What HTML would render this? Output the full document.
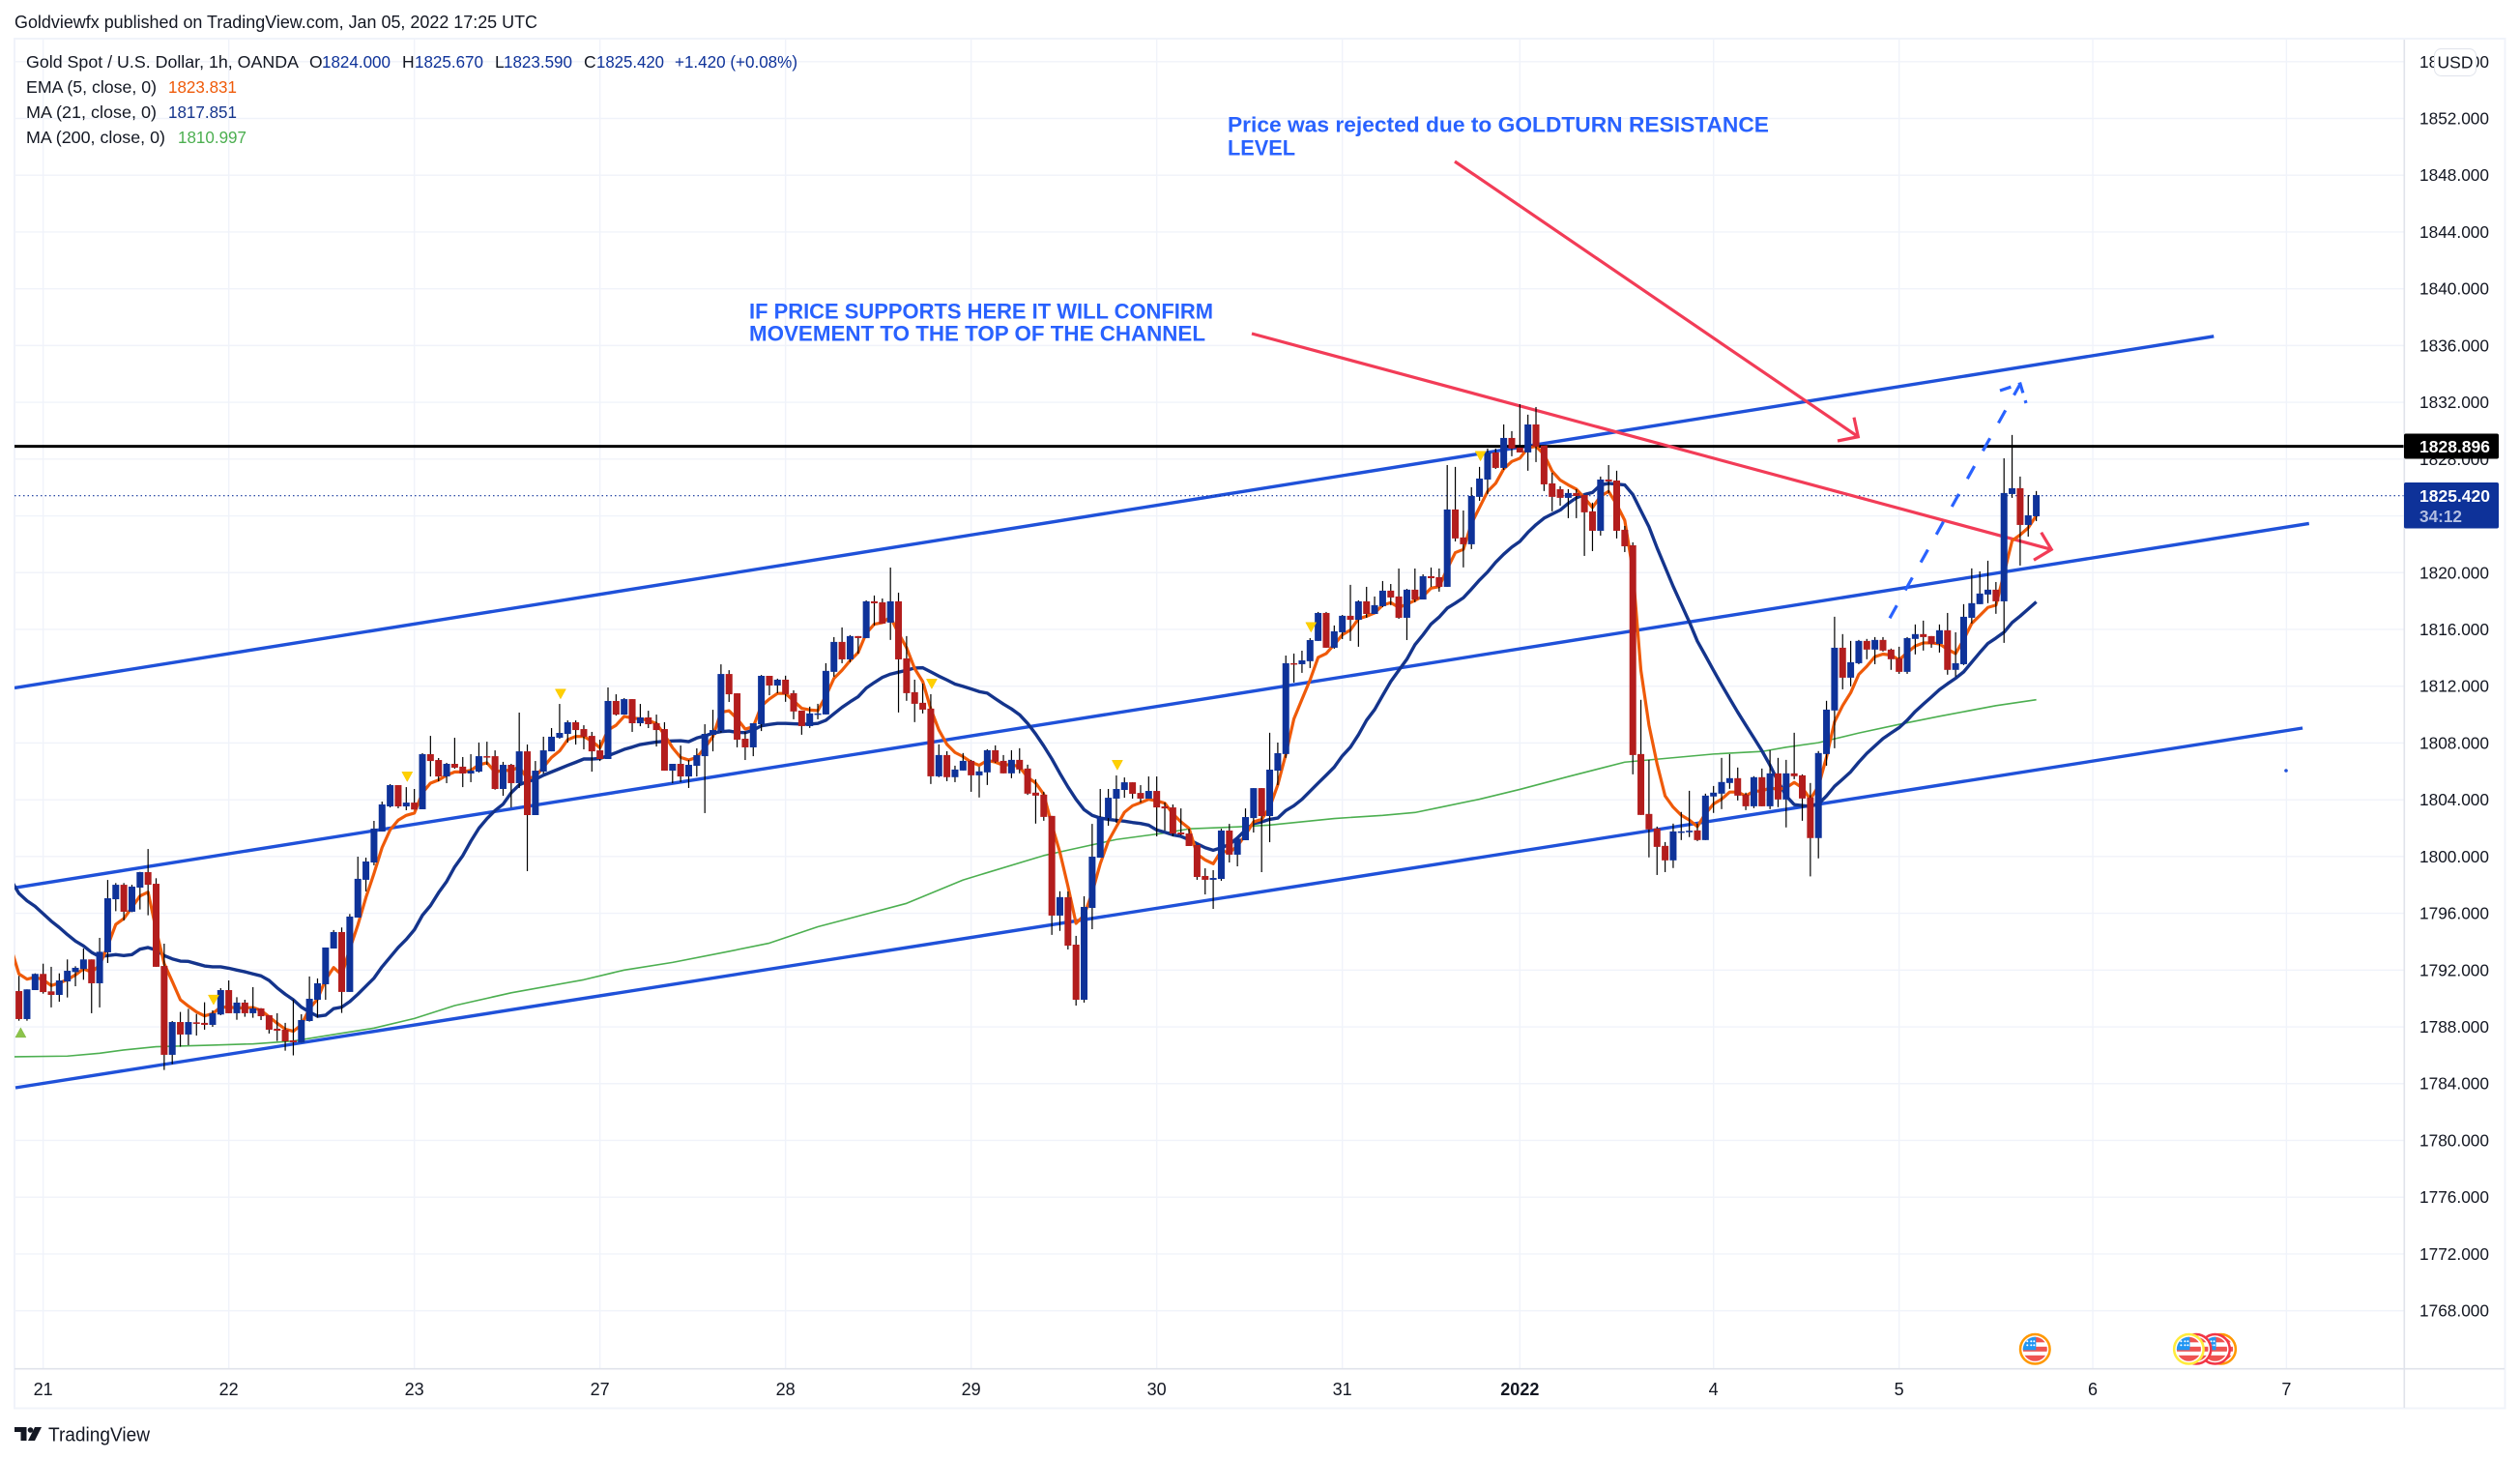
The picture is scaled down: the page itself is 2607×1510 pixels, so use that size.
<!DOCTYPE html>
<html lang="en">
<head>
<meta charset="utf-8">
<title>Gold Spot / U.S. Dollar, 1h chart</title>
<style>
html,body{margin:0;padding:0;background:#fff;width:2607px;height:1510px;overflow:hidden}
svg{display:block}
text{font-family:"Liberation Sans",sans-serif;fill:#131722;dominant-baseline:central}
</style>
</head>
<body>
<svg id="chart" xmlns="http://www.w3.org/2000/svg" width="2607" height="1510" viewBox="0 0 2607 1510">
  <defs>
    <clipPath id="pane-clip"><rect x="15" y="41" width="2472" height="1374"/></clipPath>
    <clipPath id="flag-clip"><circle cx="0" cy="0" r="12.5"/></clipPath>
    <symbol id="us-flag" viewBox="-17 -17 34 34" overflow="visible">
      <circle cx="0" cy="0" r="14" fill="#fff"/>
      <g clip-path="url(#flag-clip)">
        <rect x="-13" y="-13" width="26" height="26" fill="#fff"/>
        <rect x="-13" y="-13" width="26" height="6" fill="#ef5350"/>
        <rect x="-13" y="-2.5" width="26" height="5" fill="#ef5350"/>
        <rect x="-13" y="6.5" width="26" height="7" fill="#ef5350"/>
        <rect x="-13" y="-13" width="14" height="14" fill="#2196f3"/>
        <circle cx="-8" cy="-8" r="1" fill="#fff"/><circle cx="-4" cy="-8" r="1" fill="#fff"/><circle cx="-1" cy="-8" r="1" fill="#fff"/>
        <circle cx="-8" cy="-4" r="1" fill="#fff"/><circle cx="-4" cy="-4" r="1" fill="#fff"/><circle cx="-1" cy="-4" r="1" fill="#fff"/>
      </g>
    </symbol>
  </defs>

  <rect x="15" y="40" width="2576.5" height="1416.5" fill="#fff" stroke="#f0f3fa" stroke-width="2"/>
  <g id="grid"></g>

  <text x="15" y="23" font-size="18" textLength="541" lengthAdjust="spacingAndGlyphs">Goldviewfx published on TradingView.com, Jan 05, 2022 17:25 UTC</text>

  <g id="pane" clip-path="url(#pane-clip)">
    <g id="drawings-under"></g>
    <g id="indicators"></g>
    <g id="candles"></g>
    <g id="signals"></g>
  </g>

  <g font-size="17.5">
    <text x="27" y="64" textLength="282" lengthAdjust="spacingAndGlyphs">Gold Spot / U.S. Dollar, 1h, OANDA</text>
    <text x="320" y="64">O</text>
    <text x="333" y="64" textLength="71" lengthAdjust="spacingAndGlyphs" style="fill:#0e3299">1824.000</text>
    <text x="416" y="64">H</text>
    <text x="429" y="64" textLength="71" lengthAdjust="spacingAndGlyphs" style="fill:#0e3299">1825.670</text>
    <text x="512" y="64">L</text>
    <text x="521" y="64" textLength="71" lengthAdjust="spacingAndGlyphs" style="fill:#0e3299">1823.590</text>
    <text x="604" y="64">C</text>
    <text x="617" y="64" textLength="70" lengthAdjust="spacingAndGlyphs" style="fill:#0e3299">1825.420</text>
    <text x="698" y="64" textLength="127" lengthAdjust="spacingAndGlyphs" style="fill:#0e3299">+1.420 (+0.08%)</text>
    <text x="27" y="90" textLength="135" lengthAdjust="spacingAndGlyphs">EMA (5, close, 0)</text>
    <text x="174" y="90" textLength="71" lengthAdjust="spacingAndGlyphs" style="fill:#ef5a09">1823.831</text>
    <text x="27" y="116" textLength="135" lengthAdjust="spacingAndGlyphs">MA (21, close, 0)</text>
    <text x="174" y="116" textLength="71" lengthAdjust="spacingAndGlyphs" style="fill:#14348c">1817.851</text>
    <text x="27" y="142" textLength="144" lengthAdjust="spacingAndGlyphs">MA (200, close, 0)</text>
    <text x="184" y="142" textLength="71" lengthAdjust="spacingAndGlyphs" style="fill:#4caf50">1810.997</text>
  </g>

  <g font-size="22" font-weight="700">
    <text x="1270" y="129" textLength="560" lengthAdjust="spacingAndGlyphs" style="fill:#2962ff">Price was rejected due to GOLDTURN RESISTANCE</text>
    <text x="1270" y="153" textLength="70" lengthAdjust="spacingAndGlyphs" style="fill:#2962ff">LEVEL</text>
    <text x="775" y="322" textLength="480" lengthAdjust="spacingAndGlyphs" style="fill:#2962ff">IF PRICE SUPPORTS HERE IT WILL CONFIRM</text>
    <text x="775" y="345" textLength="472" lengthAdjust="spacingAndGlyphs" style="fill:#2962ff">MOVEMENT TO THE TOP OF THE CHANNEL</text>
  </g>

  <line x1="2487.3" y1="41" x2="2487.3" y2="1456" stroke="#e0e3eb" stroke-width="1.6"/>
  <line x1="15" y1="1415.7" x2="2591" y2="1415.7" stroke="#e0e3eb" stroke-width="1.6"/>
  <g id="price-axis"></g>
  <g id="time-axis"></g>

  <g>
    <rect x="2487" y="448.5" width="98" height="26" rx="2" fill="#000"/>
    <text x="2503" y="462" font-size="17.5" font-weight="700" textLength="73" lengthAdjust="spacingAndGlyphs" style="fill:#fff">1828.896</text>
  </g>
  <g>
    <rect x="2487" y="499" width="98" height="47.5" rx="2" fill="#0e3299"/>
    <text x="2503" y="513" font-size="17.5" font-weight="700" textLength="73" lengthAdjust="spacingAndGlyphs" style="fill:#fff">1825.420</text>
    <text x="2503" y="534" font-size="17.5" font-weight="700" textLength="44" lengthAdjust="spacingAndGlyphs" style="fill:#b3bfe2">34:12</text>
  </g>
  <g>
    <rect x="2518.5" y="50.5" width="43" height="28" rx="7" fill="#fff" stroke="#e0e3eb" stroke-width="1"/>
    <text x="2540" y="64.5" font-size="17.5" text-anchor="middle">USD</text>
  </g>

  <g>
    <g><circle cx="2105.3" cy="1395.3" r="15" fill="#fff" stroke="#ff9800" stroke-width="3"/><use href="#us-flag" x="2088.3" y="1378.3" width="34" height="34"/></g>
    <g><circle cx="2297.6" cy="1395.3" r="15" fill="#fff" stroke="#ff9800" stroke-width="3"/><use href="#us-flag" x="2280.6" y="1378.3" width="34" height="34"/></g>
    <g><circle cx="2291.5" cy="1395.3" r="15" fill="#fff" stroke="#f23645" stroke-width="3"/><use href="#us-flag" x="2274.5" y="1378.3" width="34" height="34"/></g>
    <g><circle cx="2272" cy="1395.3" r="15" fill="#fff" stroke="#f23645" stroke-width="3"/><use href="#us-flag" x="2255" y="1378.3" width="34" height="34"/></g>
    <g><circle cx="2264.4" cy="1395.3" r="15" fill="#fff" stroke="#ffeb3b" stroke-width="3"/><use href="#us-flag" x="2247.4" y="1378.3" width="34" height="34"/></g>
  </g>

  <g>
    <path d="M15 1476h12.5v14h-6v-9h-6.500z" fill="#131722"/>
    <circle cx="31.500" cy="1479" r="2.800" fill="#131722"/>
    <path d="M36 1476h7l-7 14h-7z" fill="#131722"/>
    <text x="50" y="1484.500" font-size="20" textLength="105" lengthAdjust="spacingAndGlyphs">TradingView</text>
  </g>
</svg>

<script>
// ---------- chart data ----------
const priceTicks = [1856,1852,1848,1844,1840,1836,1832,1828,1824,1820,1816,1812,1808,1804,1800,1796,1792,1788,1784,1780,1776,1772,1768];
const dayLabels = ['21','22','23','27','28','29','30','31','2022','4','5','6','7'];
const dayBars = [3,26,49,72,95,118,141,164,186,210,233,257,281];

const opens = [1790.52,1788.55,1790.59,1791.73,1790.50,1790.25,1791.20,1791.86,1792.07,1792.75,
1791.07,1793.25,1796.99,1798.01,1796.11,1797.81,1798.90,1798.08,1792.29,1786.03,
1788.34,1787.46,1788.32,1788.28,1788.14,1788.87,1790.59,1788.96,1789.71,1788.96,
1789.30,1788.82,1787.87,1787.80,1787.05,1786.89,1788.41,1789.91,1791.00,1793.52,
1794.68,1790.46,1795.70,1798.36,1799.58,1801.76,1803.53,1805.03,1803.53,1803.80,
1803.33,1807.21,1806.80,1805.64,1806.53,1806.33,1805.85,1805.98,1807.07,1807.07,
1804.76,1806.46,1805.17,1807.41,1802.92,1805.98,1807.41,1808.37,1808.64,1809.46,
1808.98,1808.50,1807.48,1806.87,1810.96,1810.00,1811.09,1809.39,1809.80,1809.39,
1808.98,1806.05,1806.53,1805.64,1806.39,1807.07,1808.57,1808.84,1812.86,1811.50,
1808.30,1807.69,1809.32,1812.73,1812.05,1812.46,1811.51,1810.28,1809.19,1810.01,
1810.01,1813.01,1815.12,1813.89,1815.53,1815.39,1817.98,1817.91,1816.48,1817.98,
1813.96,1811.58,1810.83,1810.42,1805.65,1807.15,1805.59,1806.06,1806.74,1805.72,
1805.93,1807.49,1806.74,1805.86,1806.81,1806.20,1804.50,1804.36,1802.86,1795.84,
1797.13,1793.79,1789.91,1796.38,1799.92,1802.71,1804.08,1804.69,1805.23,1804.48,
1804.08,1804.62,1803.53,1803.46,1801.69,1801.62,1800.81,1798.63,1798.36,1798.42,
1801.83,1800.13,1801.15,1802.71,1804.82,1802.85,1806.05,1807.22,1813.62,1813.55,
1813.76,1815.19,1817.16,1814.71,1815.80,1816.96,1816.68,1817.98,1817.09,1817.64,
1818.73,1818.32,1816.82,1818.80,1818.11,1819.75,1819.68,1819.00,1824.45,1822.48,
1822.00,1825.34,1826.56,1828.47,1827.38,1829.49,1828.81,1828.47,1830.44,1828.95,
1826.29,1825.88,1825.27,1825.61,1825.47,1824.32,1822.95,1826.56,1826.49,1823.02,
1821.93,1807.22,1803.00,1801.98,1800.75,1799.73,1801.71,1801.71,1801.84,1801.16,
1804.23,1804.43,1805.18,1805.52,1804.36,1803.54,1805.59,1803.54,1805.86,1804.02,
1805.86,1805.72,1804.16,1801.30,1807.22,1810.29,1814.71,1812.60,1813.62,1815.19,
1814.58,1815.26,1814.58,1813.96,1813.01,1815.33,1815.67,1815.53,1814.98,1815.94,
1813.15,1813.55,1816.82,1817.78,1818.46,1818.80,1817.98,1825.54,1825.95,1823.36,1823.97];

const highs = [1791.59,1790.64,1791.77,1792.45,1792.23,1791.77,1792.75,1792.27,1793.52,1792.75,
1794.27,1798.35,1798.13,1798.13,1798.01,1798.92,1800.53,1798.47,1793.86,1788.41,
1789.05,1789.27,1788.91,1789.73,1789.16,1790.73,1791.27,1790.09,1789.91,1790.80,
1789.32,1788.82,1788.96,1788.28,1789.91,1788.89,1791.55,1791.41,1793.59,1794.82,
1795.00,1795.95,1799.99,1799.92,1802.51,1803.87,1805.10,1805.03,1804.89,1804.76,
1807.28,1808.50,1806.94,1806.60,1808.37,1807.01,1807.21,1808.03,1808.09,1807.48,
1806.67,1806.53,1810.14,1807.89,1806.73,1808.44,1809.05,1810.75,1809.59,1809.59,
1809.25,1808.78,1808.23,1811.91,1811.43,1811.16,1811.09,1810.75,1810.27,1810.00,
1809.46,1806.53,1807.82,1806.80,1807.62,1809.32,1810.34,1813.54,1813.13,1811.50,
1808.78,1809.39,1812.79,1812.73,1812.53,1812.74,1811.71,1810.28,1810.56,1810.76,
1813.62,1815.46,1816.14,1815.60,1815.53,1818.05,1818.39,1818.18,1820.36,1818.59,
1815.53,1812.46,1812.19,1811.44,1807.90,1807.42,1806.40,1807.29,1806.81,1806.33,
1807.56,1807.83,1807.15,1807.49,1807.63,1806.47,1805.45,1804.56,1802.86,1797.55,
1797.54,1794.41,1797.20,1802.30,1804.76,1804.76,1805.71,1805.57,1805.23,1805.03,
1805.64,1805.64,1803.80,1803.67,1803.39,1801.96,1800.81,1799.17,1799.04,1801.96,
1802.30,1801.26,1803.39,1804.82,1804.82,1808.72,1808.03,1814.16,1814.30,1814.50,
1815.39,1817.23,1817.23,1816.28,1817.02,1819.14,1818.05,1819.00,1818.32,1819.41,
1819.20,1820.29,1818.86,1820.29,1819.88,1820.36,1820.29,1827.58,1827.45,1824.38,
1826.02,1827.45,1828.74,1828.74,1830.44,1829.97,1831.87,1831.13,1831.67,1828.95,
1827.04,1826.09,1825.88,1825.88,1825.47,1824.93,1826.77,1827.58,1827.18,1823.29,
1822.14,1811.04,1806.81,1802.11,1801.02,1802.32,1803.14,1804.63,1802.32,1804.43,
1804.97,1806.95,1807.22,1806.27,1804.50,1805.66,1806.20,1807.49,1806.95,1806.81,
1808.72,1805.79,1805.18,1807.43,1810.97,1816.89,1815.67,1815.19,1815.26,1815.33,
1815.46,1815.46,1814.65,1814.78,1815.46,1816.35,1816.62,1815.53,1816.35,1817.16,
1815.80,1817.78,1820.30,1820.09,1820.84,1819.34,1828.06,1829.70,1826.77,1825.47,1825.75];

const lows = [1788.43,1788.43,1790.59,1790.34,1789.37,1789.77,1790.07,1790.86,1791.32,1788.96,
1789.37,1792.50,1796.15,1795.49,1796.08,1796.27,1795.86,1792.23,1784.96,1785.37,
1786.60,1786.71,1787.39,1787.80,1788.00,1788.82,1788.96,1788.50,1788.71,1788.64,
1788.48,1787.53,1787.00,1786.32,1785.99,1786.89,1788.37,1788.64,1789.91,1793.52,
1788.98,1790.46,1795.70,1797.54,1799.38,1801.76,1803.46,1803.40,1803.26,1803.31,
1803.33,1805.64,1805.30,1805.17,1806.19,1804.89,1805.24,1805.92,1806.46,1804.71,
1804.28,1803.46,1804.83,1798.97,1802.92,1805.85,1807.41,1808.30,1808.03,1807.89,
1807.55,1805.98,1806.73,1806.87,1809.93,1810.00,1808.78,1809.18,1809.05,1807.75,
1806.05,1805.17,1805.24,1804.83,1805.64,1803.06,1807.41,1808.73,1810.89,1807.69,
1806.80,1807.07,1808.84,1811.36,1811.51,1810.90,1809.67,1808.58,1809.06,1809.67,
1810.01,1812.67,1813.62,1813.69,1814.30,1815.39,1816.28,1816.41,1815.26,1810.15,
1810.97,1809.47,1810.08,1805.11,1805.59,1805.31,1805.24,1806.06,1804.56,1804.16,
1805.04,1806.61,1805.86,1805.52,1805.86,1804.34,1802.32,1802.52,1794.48,1794.76,
1793.45,1789.50,1789.71,1794.88,1799.92,1802.17,1802.37,1804.14,1804.08,1803.80,
1804.08,1801.42,1801.83,1801.42,1801.49,1800.74,1798.36,1797.33,1796.31,1798.29,
1799.58,1799.31,1801.15,1801.69,1798.90,1801.01,1805.03,1806.95,1812.26,1812.94,
1813.28,1815.19,1814.71,1814.64,1815.32,1815.19,1814.78,1816.82,1817.09,1817.57,
1817.71,1816.75,1815.25,1817.91,1818.11,1819.00,1818.66,1819.00,1822.20,1820.37,
1821.66,1825.06,1825.54,1827.31,1827.24,1828.20,1828.47,1827.18,1827.79,1825.75,
1824.32,1824.72,1823.84,1823.84,1821.18,1821.52,1822.61,1825.61,1822.41,1821.45,
1805.79,1802.93,1799.94,1798.70,1798.90,1799.19,1801.16,1801.37,1801.09,1801.16,
1803.07,1803.34,1804.77,1803.95,1803.27,1803.41,1803.54,1803.34,1803.48,1802.05,
1805.45,1802.52,1798.60,1799.87,1806.40,1807.63,1811.78,1811.99,1813.55,1813.90,
1813.55,1814.44,1813.15,1812.87,1812.87,1814.24,1814.51,1814.71,1814.37,1812.81,
1812.67,1813.49,1816.42,1817.78,1817.85,1817.10,1815.05,1825.27,1820.50,1822.54,1823.63];

const closes = [1788.55,1790.64,1791.73,1790.45,1790.25,1791.27,1791.95,1792.16,1792.75,1791.07,
1793.29,1797.06,1798.01,1796.11,1797.88,1798.90,1798.01,1792.23,1786.03,1788.34,
1787.46,1788.34,1788.21,1788.14,1788.96,1790.59,1788.96,1789.71,1788.96,1789.30,
1788.75,1787.80,1787.73,1786.98,1786.92,1788.48,1789.98,1791.07,1793.59,1794.68,
1790.46,1795.77,1798.43,1799.65,1801.97,1803.67,1805.03,1803.53,1803.80,1803.31,
1807.21,1806.73,1805.64,1806.53,1806.26,1805.85,1806.05,1807.07,1807.01,1804.76,
1806.46,1805.17,1807.41,1802.92,1806.05,1807.48,1808.44,1808.71,1809.46,1808.91,
1808.44,1807.41,1806.87,1810.96,1810.00,1811.09,1809.39,1809.80,1809.32,1808.91,
1806.05,1806.53,1805.64,1806.46,1807.14,1808.64,1808.91,1812.86,1811.43,1808.23,
1807.69,1809.39,1812.73,1812.05,1812.46,1811.44,1810.22,1809.19,1810.08,1810.08,
1813.08,1815.12,1813.89,1815.53,1815.39,1817.98,1817.84,1816.41,1817.98,1813.89,
1811.51,1810.76,1810.35,1805.65,1807.15,1805.59,1806.13,1806.74,1805.72,1806.00,
1807.49,1806.68,1805.86,1806.81,1806.13,1804.43,1804.29,1802.79,1795.84,1797.14,
1793.72,1789.91,1796.45,1799.99,1802.78,1804.14,1804.76,1805.23,1804.42,1804.08,
1804.62,1803.46,1803.39,1801.62,1801.56,1800.74,1798.56,1798.36,1798.49,1801.83,
1800.13,1801.26,1802.78,1804.82,1802.85,1806.12,1807.28,1813.62,1813.55,1813.82,
1815.25,1817.16,1814.71,1815.87,1816.96,1816.68,1817.98,1817.09,1817.71,1818.73,
1818.25,1816.82,1818.80,1818.11,1819.75,1819.61,1819.00,1824.45,1822.41,1822.00,
1825.40,1826.63,1828.47,1827.38,1829.49,1828.74,1828.47,1830.44,1828.88,1826.22,
1825.34,1825.27,1825.61,1825.40,1824.25,1822.95,1826.56,1826.43,1822.95,1821.86,
1807.15,1802.93,1801.91,1800.68,1799.73,1801.77,1801.77,1801.82,1801.16,1804.29,
1804.50,1805.25,1805.52,1804.29,1803.54,1805.59,1803.54,1805.86,1804.02,1805.86,
1805.66,1804.09,1801.30,1807.29,1810.35,1814.71,1812.60,1813.69,1815.19,1814.58,
1815.26,1814.51,1813.90,1813.01,1815.39,1815.67,1815.46,1814.98,1815.94,1813.15,
1813.62,1816.89,1817.85,1818.53,1818.80,1817.98,1825.61,1825.95,1823.36,1824.04,1825.47];

// First value of emaValues / ma21Values belongs to the bar just before the visible left edge.
const lineStartBar = -1;
const emaValues = [1793.59,
1791.73,1791.36,1791.50,1791.32,1790.91,1791.09,1791.32,1791.66,1792.09,1791.86,
1792.34,1793.70,1795.22,1795.63,1796.42,1797.22,1797.49,1794.84,1792.45,1791.20,
1789.91,1789.46,1789.05,1788.77,1788.93,1789.39,1789.39,1789.34,1789.34,1789.36,
1789.16,1788.71,1788.25,1787.84,1787.69,1788.14,1789.28,1789.96,1791.32,1792.18,
1791.66,1793.48,1795.18,1797.11,1798.81,1800.63,1801.88,1802.56,1802.90,1803.06,
1804.49,1805.17,1805.39,1805.73,1805.96,1805.96,1806.07,1806.46,1806.60,1805.96,
1806.07,1806.07,1806.30,1805.51,1805.62,1806.30,1806.98,1807.44,1808.23,1808.46,
1808.46,1808.12,1807.66,1808.91,1809.25,1809.87,1809.75,1809.71,1809.59,1809.37,
1808.57,1807.66,1806.98,1806.80,1806.98,1807.66,1808.46,1810.16,1810.27,1809.71,
1808.98,1809.14,1810.61,1811.10,1811.49,1811.49,1810.97,1810.44,1810.33,1810.28,
1811.31,1812.55,1813.12,1813.80,1814.37,1815.73,1816.37,1816.48,1816.87,1815.73,
1814.71,1813.24,1812.33,1810.40,1808.92,1807.90,1807.33,1807.04,1806.65,1806.43,
1806.77,1806.65,1806.43,1806.49,1806.31,1805.59,1805.18,1804.38,1802.23,1800.30,
1797.90,1795.29,1795.86,1797.45,1799.49,1801.08,1802.10,1803.12,1803.58,1803.80,
1804.03,1803.92,1803.76,1803.01,1802.44,1801.99,1800.17,1799.76,1799.49,1800.40,
1800.28,1800.74,1801.53,1802.44,1802.62,1803.46,1805.05,1807.21,1809.70,1811.08,
1812.44,1814.03,1814.30,1814.94,1815.62,1815.96,1816.75,1816.93,1817.16,1817.71,
1817.89,1817.55,1817.77,1818.05,1818.34,1818.91,1819.02,1820.27,1821.41,1821.64,
1823.45,1824.59,1825.72,1826.29,1827.31,1827.83,1828.06,1828.79,1828.90,1828.33,
1827.15,1826.52,1826.18,1825.88,1825.27,1824.59,1825.38,1825.72,1824.81,1823.68,
1820.16,1813.12,1809.26,1806.54,1804.27,1803.48,1802.91,1802.57,1802.11,1803.02,
1803.70,1804.04,1804.54,1804.54,1804.27,1804.61,1804.61,1804.84,1804.73,1804.84,
1805.22,1804.84,1804.04,1804.95,1807.00,1809.49,1810.63,1811.54,1812.83,1813.40,
1814.08,1814.26,1814.19,1813.85,1814.37,1814.83,1815.05,1815.05,1814.98,1814.60,
1814.30,1815.28,1816.42,1816.98,1817.55,1817.71,1819.93,1822.25,1822.66,1823.16,1824.02];

const ma21Values = [1798.35,
1797.40,1796.88,1796.49,1795.97,1795.45,1795.00,1794.50,1794.04,1793.70,1793.25,
1792.95,1793.02,1793.09,1793.02,1793.09,1793.47,1793.59,1793.41,1793.02,1792.79,
1792.63,1792.61,1792.45,1792.29,1792.23,1792.23,1792.13,1792.00,1791.88,1791.73,
1791.59,1791.27,1790.75,1790.30,1789.91,1789.39,1789.05,1788.75,1788.82,1789.28,
1789.39,1789.78,1790.30,1790.87,1791.43,1792.23,1792.91,1793.59,1794.16,1794.84,
1795.86,1796.54,1797.45,1798.24,1799.27,1800.06,1801.08,1801.99,1802.67,1803.24,
1803.69,1804.49,1805.05,1805.28,1805.44,1805.73,1805.96,1806.19,1806.42,1806.64,
1806.87,1806.87,1806.91,1807.10,1807.32,1807.55,1807.71,1807.89,1807.98,1808.07,
1808.12,1808.14,1808.16,1808.09,1808.35,1808.50,1808.69,1808.80,1808.84,1808.75,
1808.73,1808.91,1809.21,1809.30,1809.38,1809.38,1809.35,1809.33,1809.33,1809.38,
1809.60,1810.06,1810.51,1810.90,1811.26,1811.87,1812.26,1812.62,1812.85,1812.99,
1813.12,1813.28,1813.30,1813.01,1812.71,1812.44,1812.15,1811.99,1811.81,1811.62,
1811.51,1811.12,1810.74,1810.40,1809.99,1809.38,1808.63,1807.79,1806.88,1805.86,
1804.90,1804.03,1803.30,1802.90,1802.71,1802.62,1802.55,1802.49,1802.40,1802.33,
1802.21,1801.87,1801.71,1801.53,1801.42,1801.19,1800.90,1800.62,1800.44,1800.62,
1800.85,1801.31,1801.87,1802.33,1802.44,1802.62,1802.71,1803.24,1803.58,1804.03,
1804.60,1805.17,1805.73,1806.30,1807.09,1807.70,1808.58,1809.60,1810.35,1811.35,
1812.33,1813.12,1813.90,1814.92,1815.62,1816.38,1816.87,1817.50,1817.85,1818.23,
1818.84,1819.48,1820.05,1820.73,1821.30,1821.80,1822.20,1822.84,1823.38,1823.84,
1824.13,1824.41,1824.88,1825.27,1825.50,1825.65,1826.18,1826.29,1826.24,1826.18,
1825.50,1824.36,1823.23,1821.75,1820.39,1819.03,1817.78,1816.53,1815.17,1814.15,
1813.12,1812.10,1811.13,1810.17,1809.26,1808.36,1807.45,1806.43,1805.29,1804.27,
1803.66,1803.59,1803.54,1803.70,1804.27,1804.95,1805.45,1805.97,1806.65,1807.27,
1807.79,1808.31,1808.70,1809.08,1809.60,1810.22,1810.74,1811.24,1811.76,1812.17,
1812.56,1813.01,1813.69,1814.37,1815.01,1815.39,1815.80,1816.48,1816.94,1817.44,1817.94];

const ma200Bars = [-1,6,10,13,17,24,29,34,39,44,49,54,61,70,75,81,88,93,99,110,117,127,130,136,142,145,151,155,163,169,173,176,181,186,192,199,210,216,219,223,228,233,238,245,250];
const ma200Values = [1785.89,1785.94,1786.14,1786.37,1786.60,1786.71,1786.80,1787.00,1787.46,1787.91,1788.59,1789.50,1790.40,1791.32,1792.00,1792.54,1793.32,1793.90,1795.05,1796.70,1798.35,1800.07,1800.45,1801.20,1801.66,1801.95,1802.09,1802.22,1802.68,1802.90,1803.10,1803.45,1804.04,1804.73,1805.63,1806.65,1807.22,1807.40,1807.70,1808.02,1808.70,1809.31,1809.88,1810.63,1811.05];

const sellSignalBars = [24,48,67,113,136,160,181];
const sellSignalPrices = [1789.90,1805.62,1811.45,1812.16,1806.44,1816.15,1828.21];
const buySignalBars = [0];
const buySignalPrices = [1787.60];

const channelBars = [[-0.55,272],[-0.43,283.8],[-0.43,283]];
const channelPrices = [[1811.88,1836.65],[1797.81,1823.46],[1783.71,1809.05]];
const levelPrice = 1828.896;
const lastPrice = 1825.42;

// ---------- axis functions ----------
function xScale(bar){ return 19.6 + 8.348 * bar; }
function yScale(price){ return 122.5 + (1852 - price) * 14.68; }

const NS = 'http://www.w3.org/2000/svg';
function make(tag, attrs, parent){
  const el = document.createElementNS(NS, tag);
  for (const k in attrs) el.setAttribute(k, attrs[k]);
  parent.appendChild(el);
  return el;
}

// ---------- grid + axes ----------
const gridG = document.getElementById('grid');
const priceAxisG = document.getElementById('price-axis');
const timeAxisG = document.getElementById('time-axis');

priceTicks.forEach(function(p){
  const line = make('line', {x1:15, x2:2487, y1:yScale(p), y2:yScale(p), stroke:'#f0f3fa', 'stroke-width':1.4}, gridG);
  
  
  const label = make('text', {x:2503, y:yScale(p), 'font-size':17.5, textLength:72, lengthAdjust:'spacingAndGlyphs'}, priceAxisG);
  label.textContent = p.toFixed(3);
  
  
});

dayBars.forEach(function(b, k){
  const line = make('line', {x1:xScale(b), x2:xScale(b), y1:41, y2:1415, stroke:'#f0f3fa', 'stroke-width':1.4}, gridG);
  
  
  const label = make('text', {x:xScale(b), y:1437, 'font-size':18, 'text-anchor':'middle'}, timeAxisG);
  if (dayLabels[k] === '2022') label.setAttribute('font-weight', '700');
  label.textContent = dayLabels[k];
  
  
});

// ---------- drawings beneath the candles ----------
const under = document.getElementById('drawings-under');
channelBars.forEach(function(bars, k){
  const prices = channelPrices[k];
  const line = make('line', {x1:xScale(bars[0]), y1:yScale(prices[0]), x2:xScale(bars[1]), y2:yScale(prices[1]), stroke:'#1f51d9', 'stroke-width':3.4}, under);
  
  
});

const dotted = make('line', {x1:15, x2:2487, y1:yScale(lastPrice), y2:yScale(lastPrice), stroke:'#0e3299', 'stroke-width':1.2, 'stroke-dasharray':'1.5 3'}, under);



const level = make('line', {x1:15, x2:2487, y1:yScale(levelPrice), y2:yScale(levelPrice), stroke:'#000', 'stroke-width':3}, under);



const redArrow1 = make('path', {d:'M1505 167L1922.3 451.7M1901 456L1922.3 451.7L1918 431.700', fill:'none', stroke:'#f23c57', 'stroke-width':3.2}, under);



const redArrow2 = make('path', {d:'M1295 345L2122.3 568.3M2111.7 550.7L2122.3 568.3L2104 579.3', fill:'none', stroke:'#f23c57', 'stroke-width':3.2}, under);



const dashArrow = make('path', {d:'M1955 639.3L2090 397', fill:'none', stroke:'#2962ff', 'stroke-width':3.2, 'stroke-dasharray':'15 18'}, under);



const dashHead = make('path', {d:'M2069 404L2090 397L2096 417', fill:'none', stroke:'#2962ff', 'stroke-width':3.2, 'stroke-dasharray':'12 8'}, under);



const stray = make('circle', {cx:2365, cy:797, r:1.8, fill:'#1f51d9'}, under);



// ---------- indicator lines ----------
const indG = document.getElementById('indicators');
function seriesPath(values, startBar){
  return values.map(function(v, k){
    return (k ? 'L' : 'M') + xScale(startBar + k).toFixed(2) + ' ' + yScale(v).toFixed(2);
  }).join('');
}
function knotPath(bars, values){
  return values.map(function(v, k){
    return (k ? 'L' : 'M') + xScale(bars[k]).toFixed(2) + ' ' + yScale(v).toFixed(2);
  }).join('');
}
const ma200Line = make('path', {d:knotPath(ma200Bars, ma200Values), fill:'none', stroke:'#4caf50', 'stroke-width':1.6, 'stroke-linejoin':'round'}, indG);



const ma21Line = make('path', {d:seriesPath(ma21Values, lineStartBar), fill:'none', stroke:'#14348c', 'stroke-width':3.4, 'stroke-linejoin':'round'}, indG);



const emaLine = make('path', {d:seriesPath(emaValues, lineStartBar), fill:'none', stroke:'#ef5a09', 'stroke-width':3.2, 'stroke-linejoin':'round'}, indG);



// ---------- candles ----------
const candleG = document.getElementById('candles');
opens.forEach(function(o, i){
  const c = closes[i];
  const up = c >= o;
  const color = up ? '#0e3299' : '#b31d1d';
  const x = xScale(i);
  const wick = make('line', {x1:x, x2:x, y1:yScale(highs[i]), y2:yScale(lows[i]), stroke:'#000', 'stroke-width':1.2}, candleG);
  
  
  const top = yScale(Math.max(o, c));
  const h = Math.max(1.5, yScale(Math.min(o, c)) - top);
  const body = make('rect', {x:x - 3.5, y:top, width:7, height:h, fill:color}, candleG);
  
  
});

// ---------- signal triangles ----------
const signalG = document.getElementById('signals');
sellSignalBars.forEach(function(b, k){
  const x = xScale(b) + 1, y = yScale(sellSignalPrices[k]);
  const tri = make('polygon', {points:(x-5.5)+','+(y-5)+' '+(x+5.5)+','+(y-5)+' '+x+','+(y+5), fill:'#ffd000', stroke:'#f5c400', 'stroke-width':0.5}, signalG);
  
  
});
buySignalBars.forEach(function(b, k){
  const x = xScale(b) + 1.8, y = yScale(buySignalPrices[k]);
  const tri = make('polygon', {points:(x-5.5)+','+(y+5)+' '+(x+5.5)+','+(y+5)+' '+x+','+(y-5), fill:'#8bc34a', stroke:'#7cb342', 'stroke-width':0.5}, signalG);
  
  
});
</script>
</body>
</html>
